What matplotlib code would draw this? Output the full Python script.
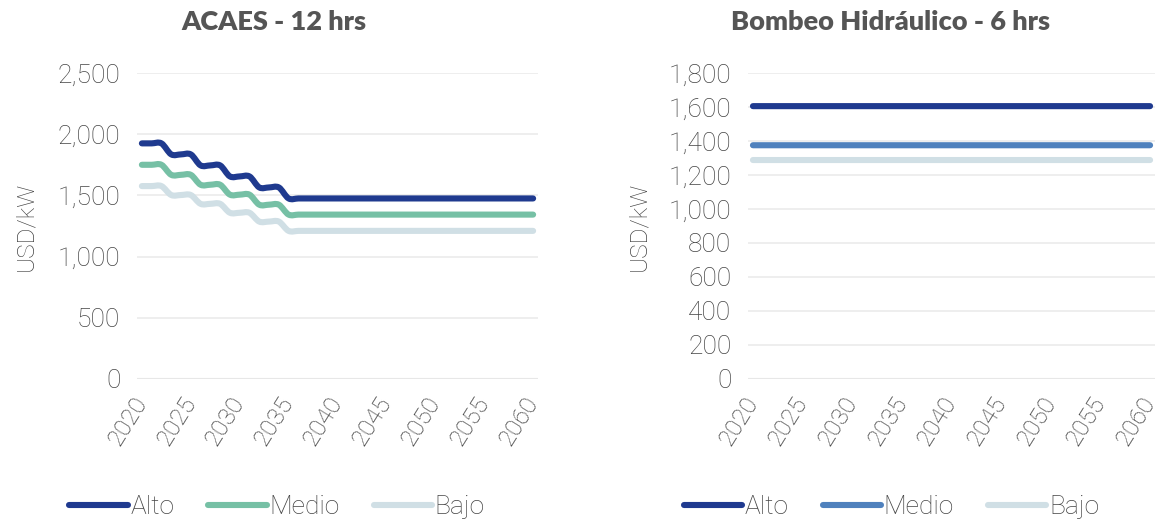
import numpy as np
import matplotlib
matplotlib.use('Agg')
import matplotlib.pyplot as plt
from matplotlib.path import Path
from matplotlib.patches import PathPatch
from matplotlib.lines import Line2D

plt.rcParams['font.family'] = ['Roboto', 'DejaVu Sans']

# data
years = list(range(2020, 2061))
acaes_alto = [1925] * 3 + [1835] * 3 + [1745] * 3 + [1655] * 3 + [1565] * 3 + [1475] * 26
acaes_medio = [1750] * 3 + [1668] * 3 + [1587] * 3 + [1506] * 3 + [1424] * 3 + [1343] * 26
acaes_bajo = [1576] * 3 + [1503] * 3 + [1431] * 3 + [1358] * 3 + [1286] * 3 + [1210] * 26
bombeo_alto = [1605] * 41
bombeo_medio = [1375] * 41
bombeo_bajo = [1288] * 41
series_names = ['Alto', 'Medio', 'Bajo']
xticks = list(range(2020, 2061, 5))

c_alto = '#1f3a8f'
c_medio_l = '#76c0a5'
c_medio_r = '#4f81bd'
c_bajo = '#d0dfe5'
txt = '#444444'
lw = 4.4
fs = 19


def smooth_path(x, y):
    # Excel-style smoothed line drawn as cubic bezier segments
    x = np.asarray(x, float)
    y = np.asarray(y, float)
    n = len(x)
    verts = [(x[0], y[0])]
    codes = [Path.MOVETO]
    for i in range(n - 1):
        x0, y0 = (x[i - 1], y[i - 1]) if i > 0 else (x[i], y[i])
        x3, y3 = (x[i + 2], y[i + 2]) if i + 2 < n else (x[i + 1], y[i + 1])
        c1 = (x[i] + (x[i + 1] - x0) / 6, y[i] + (y[i + 1] - y0) / 6)
        c2 = (x[i + 1] - (x3 - x[i]) / 6, y[i + 1] - (y3 - y[i]) / 6)
        verts += [c1, c2, (x[i + 1], y[i + 1])]
        codes += [Path.CURVE4] * 3
    return Path(verts, codes)


def draw(ax, series, colors, ymax, ystep, ylab_x):
    for vals, c in zip(series, colors):
        ax.add_patch(PathPatch(smooth_path(years, vals), facecolor='none', edgecolor=c,
                               lw=lw, capstyle='round', joinstyle='round', zorder=3))
    ax.set_xlim(2019.5, 2060.5)
    ax.set_ylim(0, ymax)
    ax.set_yticks(np.arange(0, ymax + 1, ystep))
    ax.yaxis.set_major_formatter(matplotlib.ticker.FuncFormatter(lambda v, p: f'{int(v):,}'))
    ax.set_xticks(xticks)
    ax.set_xticklabels([str(t) for t in xticks], rotation=58, ha='right', va='center',
                       rotation_mode='anchor')
    ax.tick_params(length=0, labelsize=fs, labelcolor=txt, pad=12)
    ax.tick_params(axis='x', pad=14, labelsize=17.5)
    for lab in ax.get_xticklabels() + ax.get_yticklabels():
        lab.set_fontweight('light')
    ax.grid(axis='y', color='#ebebeb', lw=1.2, zorder=0)
    ax.axhline(0, color='#d9d9d9', lw=1.5, zorder=1)
    for s in ax.spines.values():
        s.set_visible(False)
    ax.set_ylabel('USD/kW', fontsize=17.5, color=txt, fontweight='light')
    ax.yaxis.set_label_coords(ylab_x, 0.5)


fig = plt.figure(figsize=(11.64, 5.21), dpi=100)
ax1 = fig.add_axes([0.1177, 0.2726, 0.3445, 0.5873])
ax2 = fig.add_axes([0.6426, 0.2726, 0.3497, 0.5873])

draw(ax1, [acaes_alto, acaes_medio, acaes_bajo], [c_alto, c_medio_l, c_bajo], 2500, 500, -0.25)
draw(ax2, [bombeo_alto, bombeo_medio, bombeo_bajo], [c_alto, c_medio_r, c_bajo], 1800, 200, -0.24)

fig.text(0.235, 0.958, 'ACAES - 12 hrs', ha='center', va='center', fontsize=19.5,
         fontweight='heavy', color='#555555', family=['Lato', 'DejaVu Sans'])
fig.text(0.765, 0.958, 'Bombeo Hidráulico - 6 hrs', ha='center', va='center', fontsize=19.5,
         fontweight='heavy', color='#555555', family=['Lato', 'DejaVu Sans'])

for cx, cols in [(0.238, [c_alto, c_medio_l, c_bajo]), (0.766, [c_alto, c_medio_r, c_bajo])]:
    handles = [Line2D([], [], color=c, lw=lw, solid_capstyle='round') for c in cols]
    leg = fig.legend(handles, series_names, loc='center', bbox_to_anchor=(cx, 0.026), ncol=3,
                     frameon=False, fontsize=fs, handlelength=2.2, handletextpad=0.1,
                     columnspacing=1.3, borderaxespad=0)
    for t in leg.get_texts():
        t.set_color(txt)
        t.set_fontweight('light')

fig.savefig('out.png', dpi=100)
